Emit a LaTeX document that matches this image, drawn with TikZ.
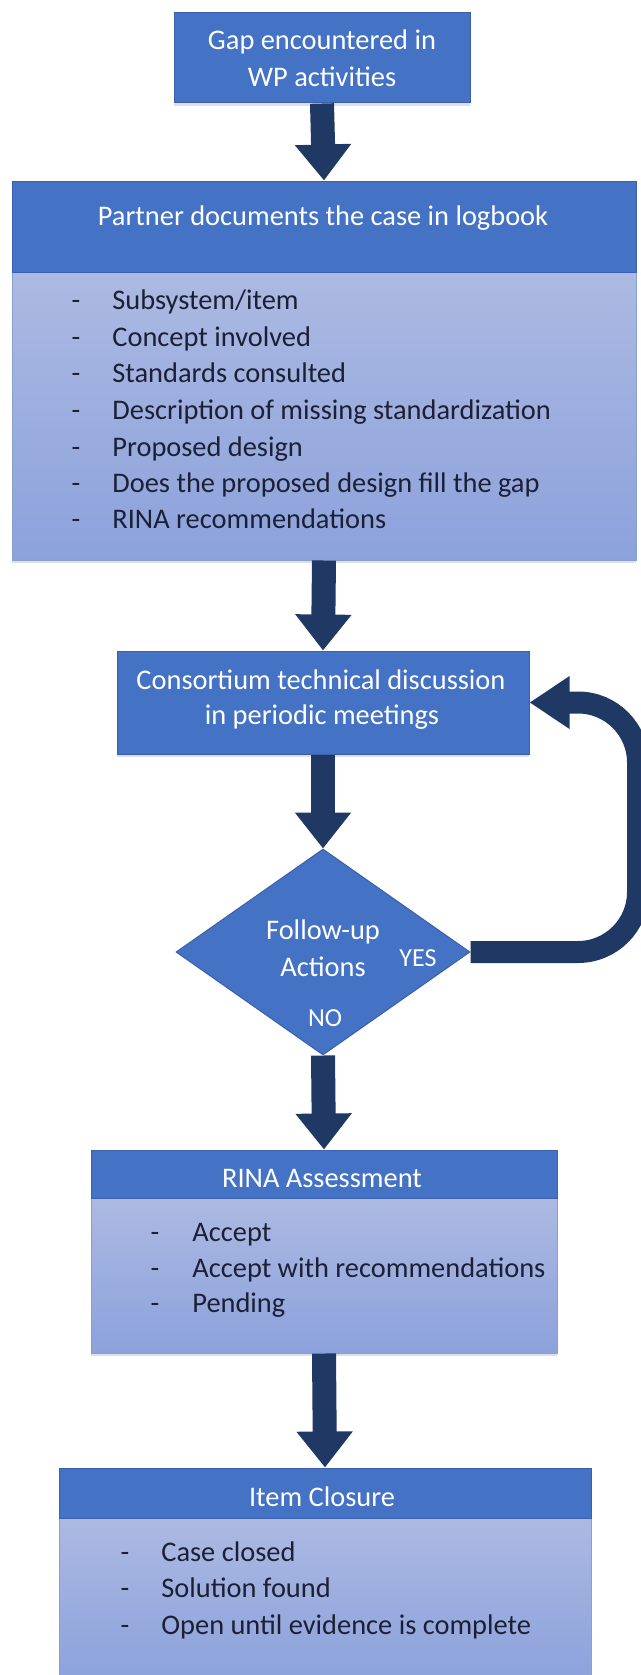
\documentclass[tikz,border=0pt]{standalone}
\usepackage{fontspec}
\setmainfont{Carlito}
\usetikzlibrary{arrows.meta,shapes.geometric,shadows}

\definecolor{hdrblue}{RGB}{68,114,196}
\definecolor{edgeblue}{RGB}{58,96,172}
\definecolor{bodytop}{RGB}{172,185,226}
\definecolor{bodybot}{RGB}{140,162,220}
\definecolor{navy}{RGB}{31,56,100}
\definecolor{ink}{RGB}{28,32,52}

\tikzset{
  hdr/.style={rectangle, fill=hdrblue, draw=edgeblue, line width=0.5pt, inner sep=0},
  bodybox/.style={rectangle, top color=bodytop, bottom color=bodybot,
    draw=edgeblue!60, line width=0.5pt, inner sep=0},
  boxshadow/.style={drop shadow={opacity=0.25, shadow xshift=0pt, shadow yshift=-1.5pt}},
  htext/.style={text=white, font=\fontsize{14.2}{17}\selectfont, inner sep=0, anchor=base},
  ltext/.style={text=ink, font=\fontsize{14.2}{17}\selectfont, inner sep=0, anchor=base west},
  dashmark/.style={text=ink, font=\fontsize{14.2}{17}\selectfont, inner sep=0, anchor=base},
  smalltext/.style={text=white, font=\fontsize{13}{15}\selectfont, inner sep=0, anchor=base},
  flow/.style={draw=navy, line width=12pt, -{Triangle[width=27pt,length=18pt]}},
  loopflow/.style={draw=navy, line width=11pt, rounded corners=30pt,
    -{Triangle[width=25pt,length=20pt]}},
}

\begin{document}
\begin{tikzpicture}[x=0.5pt, y=-0.5pt]
\useasboundingbox (0,0) rectangle (641,1675);

% ---- start box
\node[hdr, boxshadow, minimum width=148pt, minimum height=45pt] (top) at (322,58) {};
\node[htext] (t1) at (322,50) {Gap encountered in};
\node[htext] (t2) at (322,87) {WP activities};

% ---- logbook box
\node[bodybox, boxshadow, minimum width=312pt, minimum height=144pt] (body2) at (324,416) {};
\node[hdr, minimum width=312pt, minimum height=45.5pt] (hdr2) at (324,226.5) {};
\node[htext] (h2) at (323,225) {Partner documents the case in logbook};
\foreach \n/\yy/\txt in {1/309/Subsystem\slash item, 2/346/Concept involved,
    3/382/Standards consulted, 4/419/Description of missing standardization,
    5/456/Proposed design, 6/492/Does the proposed design fill the gap,
    7/528/RINA recommendations}{
  \node[dashmark] (d2\n) at (76,\yy) {-};
  \node[ltext] (l2\n) at (112,\yy) {\txt};
}

% ---- discussion box
\node[hdr, boxshadow, minimum width=206pt, minimum height=51.5pt] (box3) at (323,702.5) {};
\node[htext] (c1) at (321,689) {Consortium technical discussion};
\node[htext] (c2) at (322,724) {in periodic meetings};

% ---- decision
\node[diamond, fill=hdrblue, draw=edgeblue, line width=0.5pt, inner sep=0,
      minimum width=147pt, minimum height=103pt] (dia) at (323,952) {};
\node[htext] (f1) at (323,939) {Follow-up};
\node[htext] (f2) at (323,976) {Actions};
\node[smalltext] (yes) at (418,966) {YES};
\node[smalltext] (no) at (325,1026) {NO};

% ---- assessment box
\node[bodybox, boxshadow, minimum width=233pt, minimum height=77.5pt] (body4) at (324,1275.5) {};
\node[hdr, minimum width=233pt, minimum height=24pt] (hdr4) at (324,1174) {};
\node[htext] (h4) at (322,1187) {RINA Assessment};
\foreach \n/\yy/\txt in {1/1241/Accept, 2/1277/Accept with recommendations, 3/1312/Pending}{
  \node[dashmark] (d4\n) at (155,\yy) {-};
  \node[ltext] (l4\n) at (192,\yy) {\txt};
}

% ---- closure box
\node[bodybox, boxshadow, minimum width=266pt, minimum height=81pt] (body5) at (325,1599) {};
\node[hdr, minimum width=266pt, minimum height=25pt] (hdr5) at (325,1493) {};
\node[htext] (h5) at (322,1506) {Item Closure};
\foreach \n/\yy/\txt in {1/1561/Case closed, 2/1597/Solution found, 3/1634/Open until evidence is complete}{
  \node[dashmark] (d5\n) at (125,\yy) {-};
  \node[ltext] (l5\n) at (161,\yy) {\txt};
}

% ---- connectors
\draw[flow] (top.south) -- (hdr2.north);
\draw[flow] (body2.south) -- (box3.north);
\draw[flow] (box3.south) -- (dia.north);
\draw[flow] (dia.south) -- (hdr4.north);
\draw[flow] (body4.south) -- (hdr5.north);

\coordinate (loopR) at (638,0);
\draw[loopflow] (dia.east) -- (dia.east -| loopR) -- (box3.east -| loopR) -- (box3.east);
\end{tikzpicture}
\end{document}
